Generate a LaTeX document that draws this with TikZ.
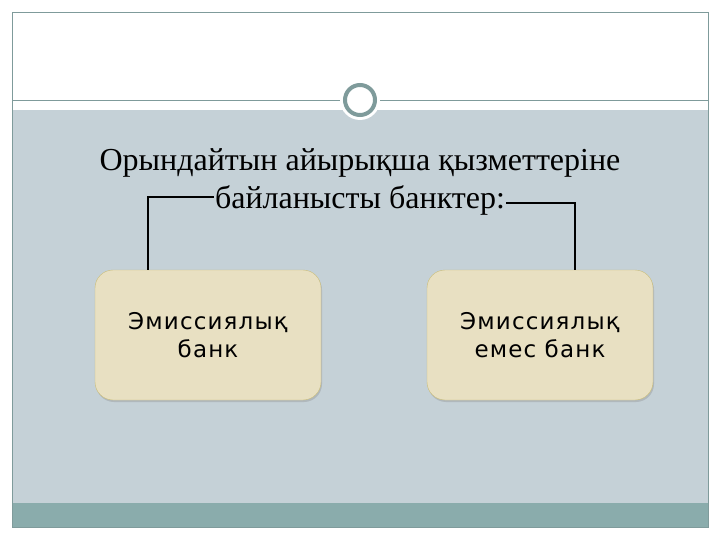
\documentclass[tikz,border=0pt]{standalone}
\usepackage{fontspec}
\setmainfont{Liberation Serif}
\newfontfamily\boxfont[LetterSpace=5]{DejaVu Sans}
\usetikzlibrary{shadows}

\definecolor{slidegray}{HTML}{C5D1D7}
\definecolor{bandteal}{HTML}{8AACAC}
\definecolor{ruleteal}{HTML}{7F9B9B}
\definecolor{boxfill}{HTML}{E8E0C2}
\definecolor{boxedge}{HTML}{C9BC78}

\tikzset{
    bankbox/.style={draw=boxedge, fill=boxfill, rounded corners=18pt,
        minimum width=226pt, minimum height=130pt, align=center,
        font=\boxfont\fontsize{23}{28}\selectfont,
        drop shadow={shadow xshift=1pt, shadow yshift=-2pt, opacity=0.3}},
    titleline/.style={font=\fontsize{32}{38}\selectfont, inner sep=1pt, anchor=base},
    link/.style={black, line width=1.5pt}
}

\begin{document}
\begin{tikzpicture}[x=1pt, y=-1pt]
    \useasboundingbox (0,0) rectangle (720,540);
    \fill[white] (0,0) rectangle (720,540);

    % Slide background and frame
    \fill[slidegray] (12,110) rectangle (708,503);
    \fill[bandteal] (12,503) rectangle (708,527);
    \draw[ruleteal, line width=0.8pt] (12,12) rectangle (708,527);
    \draw[ruleteal, line width=0.8pt] (12,100) -- (708,100);

    % Ring on the rule
    \fill[white] (360,100) circle (20);
    \draw[ruleteal, line width=4pt, fill=white] (360,100) circle (15);

    % Title
    \node[titleline] (t1) at (360,171) {Орындайтын айырықша қызметтеріне};
    \node[titleline] (t2) at (360,208) {байланысты банктер:};

    % Banks
    \node[bankbox] (emis) at (208,335) {Эмиссиялық\\банк};
    \node[bankbox] (nonemis) at (540,335) {Эмиссиялық\\емес банк};

    % Connectors
    \coordinate (ljoin) at (148,197);
    \coordinate (rjoin) at (575,203);
    \draw[link] (t2.west |- ljoin) -- (ljoin) -- (ljoin |- emis.north);
    \draw[link] (t2.east |- rjoin) -- (rjoin) -- (rjoin |- nonemis.north);
\end{tikzpicture}
\end{document}
